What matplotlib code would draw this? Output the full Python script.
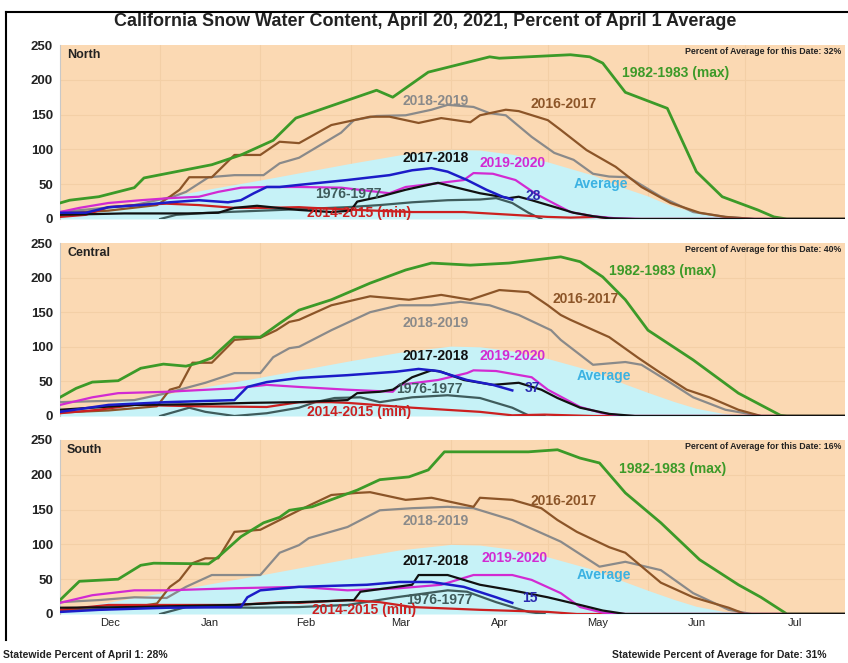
import matplotlib.pyplot as plt
from matplotlib.lines import Line2D

plt.rcParams['font.family'] = ['Liberation Sans', 'DejaVu Sans']

# days counted from Dec 1 (Dec 1 = 0, Jan 1 = 31, ... Aug 1 = 243)
month_starts = [0, 31, 62, 90, 121, 151, 182, 212, 243]
month_names = ['Dec', 'Jan', 'Feb', 'Mar', 'Apr', 'May', 'Jun', 'Jul']

regions = ['North', 'Central', 'South']
date_pct = ['32%', '40%', '16%']
current_pct = ['28', '37', '15']

# ---- North ----
north_avg = [(0, 6), (15, 17), (31, 30), (46, 43), (62, 56), (76, 68), (90, 80), (105, 92),
             (121, 100), (130, 99), (140, 93), (151, 82), (165, 63), (175, 44), (182, 33),
             (186, 25), (190, 18), (197, 9), (205, 3), (212, 0), (243, 0)]
north_1983 = [(0, 23), (3, 27), (12, 32), (23, 45), (26, 59), (47, 78), (56, 92), (66, 113),
              (73, 145), (98, 185), (103, 175), (114, 211), (133, 233), (136, 231), (158, 236),
              (164, 233), (168, 224), (175, 182), (188, 159), (197, 68), (205, 32), (216, 13),
              (221, 3), (225, 0), (243, 0)]
north_2017 = [(0, 8), (15, 12), (30, 20), (34, 32), (37, 42), (40, 60), (47, 60), (54, 92),
              (62, 92), (68, 111), (74, 109), (84, 135), (96, 147), (102, 147), (111, 138),
              (118, 145), (127, 139), (130, 149), (138, 157), (142, 155), (151, 142), (155, 128),
              (163, 99), (172, 75), (180, 46), (189, 23), (198, 9), (206, 3), (215, 0), (243, 0)]
north_2019 = [(0, 10), (23, 20), (35, 32), (39, 39), (46, 60), (54, 63), (63, 63), (68, 80),
              (74, 88), (87, 124), (91, 142), (98, 148), (107, 149), (115, 157), (120, 164),
              (128, 161), (133, 152), (138, 149), (146, 118), (153, 95), (159, 85), (165, 65),
              (170, 61), (176, 60), (186, 32), (196, 10), (206, 3), (215, 0), (243, 0)]
north_2020 = [(0, 10), (6, 16), (15, 23), (25, 27), (34, 30), (43, 32), (49, 39), (56, 45),
              (64, 46), (74, 46), (87, 45), (102, 37), (107, 46), (118, 52), (125, 56), (128, 66),
              (134, 65), (141, 56), (147, 37), (151, 27), (158, 10), (165, 4), (172, 1), (180, 0),
              (243, 0)]
north_2018 = [(0, 6), (20, 8), (40, 8), (49, 9), (54, 16), (61, 19), (74, 13), (84, 10), (90, 12),
              (92, 25), (99, 32), (107, 42), (117, 52), (122, 46), (130, 37), (139, 30), (142, 32),
              (146, 27), (154, 16), (159, 9), (165, 4), (170, 1), (178, 0), (243, 0)]
north_2021 = [(0, 9), (8, 9), (15, 17), (25, 20), (34, 24), (43, 27), (52, 24), (56, 27), (60, 37),
              (64, 46), (68, 46), (74, 49), (89, 56), (102, 63), (109, 70), (115, 73), (120, 68),
              (126, 56), (132, 42), (137, 32), (140, 28)]
north_2015 = [(0, 3), (8, 6), (15, 17), (23, 20), (33, 22), (43, 20), (54, 16), (64, 16), (74, 17),
              (78, 16), (92, 13), (109, 10), (125, 10), (140, 6), (151, 3), (158, 2), (166, 3),
              (172, 0), (243, 0)]
north_1977 = [(31, 0), (36, 6), (46, 9), (68, 13), (89, 17), (99, 20), (109, 24), (120, 27),
              (130, 28), (135, 30), (140, 23), (145, 9), (149, 0)]

# ---- Central ----
central_avg = [(0, 6), (15, 18), (31, 30), (46, 43), (62, 56), (76, 68), (90, 80), (105, 92),
               (121, 101), (130, 100), (140, 94), (151, 83), (165, 65), (175, 46), (182, 34),
               (190, 21), (197, 11), (205, 4), (212, 1), (220, 0), (243, 0)]
central_1983 = [(0, 27), (5, 40), (10, 49), (18, 51), (25, 69), (32, 75), (39, 72), (43, 77),
                (47, 84), (54, 114), (62, 114), (68, 134), (74, 153), (84, 168), (96, 192),
                (107, 211), (115, 221), (127, 218), (139, 221), (155, 230), (161, 223), (168, 201),
                (175, 168), (182, 124), (196, 81), (210, 33), (223, 1), (225, 0), (243, 0)]
central_2017 = [(0, 5), (15, 8), (30, 14), (34, 38), (37, 42), (41, 77), (47, 77), (54, 110),
                (62, 113), (67, 124), (71, 136), (74, 139), (84, 160), (96, 173), (108, 168),
                (118, 175), (127, 168), (136, 182), (145, 179), (151, 160), (155, 146), (158, 139),
                (170, 114), (179, 84), (186, 62), (194, 38), (201, 27), (210, 9), (217, 0), (243, 0)]
central_2019 = [(0, 20), (23, 23), (33, 33), (45, 48), (54, 62), (62, 62), (66, 85), (71, 98),
                (74, 100), (84, 124), (96, 150), (105, 160), (115, 160), (124, 165), (133, 160),
                (142, 146), (152, 124), (155, 110), (165, 74), (175, 78), (180, 74), (189, 48),
                (196, 27), (206, 9), (217, 0), (243, 0)]
central_2020 = [(0, 16), (10, 27), (18, 33), (33, 35), (54, 40), (64, 45), (74, 42), (89, 38),
                (103, 35), (105, 45), (117, 52), (126, 62), (128, 66), (135, 65), (146, 56),
                (151, 38), (161, 13), (168, 4), (175, 0), (243, 0)]
central_2018 = [(0, 9), (23, 16), (43, 17), (59, 19), (74, 20), (89, 23), (92, 33), (99, 35),
                (103, 38), (109, 56), (115, 66), (118, 64), (125, 52), (134, 45), (142, 48),
                (149, 38), (154, 26), (161, 12), (170, 3), (178, 0), (243, 0)]
central_2021 = [(0, 6), (15, 16), (33, 20), (54, 23), (58, 42), (64, 49), (74, 55), (89, 59),
                (104, 64), (111, 68), (117, 65), (126, 52), (134, 45), (140, 37)]
central_2015 = [(0, 4), (12, 9), (23, 16), (43, 14), (64, 13), (74, 20), (84, 20), (89, 19),
                (109, 12), (130, 6), (140, 1), (150, 2), (165, 0), (243, 0)]
central_1977 = [(31, 0), (40, 12), (45, 6), (54, 0), (64, 4), (74, 12), (79, 20), (85, 26),
                (93, 27), (99, 20), (109, 27), (120, 30), (130, 26), (140, 12), (145, 1), (150, 0)]

# ---- South ----
south_avg = [(0, 6), (15, 17), (31, 30), (46, 43), (62, 56), (76, 68), (90, 80), (105, 92),
             (121, 100), (130, 99), (140, 93), (151, 82), (165, 64), (175, 46), (182, 34),
             (190, 21), (197, 11), (205, 4), (212, 1), (220, 0), (243, 0)]
south_1983 = [(0, 20), (6, 47), (18, 50), (25, 70), (29, 73), (46, 72), (49, 82), (56, 111),
              (63, 131), (68, 139), (71, 149), (78, 154), (92, 178), (99, 193), (108, 197),
              (114, 207), (119, 233), (145, 233), (154, 236), (161, 224), (167, 217), (175, 174),
              (186, 131), (198, 78), (210, 42), (217, 24), (225, 0), (243, 0)]
south_2017 = [(0, 5), (20, 8), (30, 15), (34, 39), (37, 49), (41, 73), (45, 80), (49, 80),
              (54, 118), (62, 121), (68, 135), (74, 149), (84, 171), (92, 174), (96, 175),
              (107, 164), (115, 167), (128, 154), (130, 167), (140, 164), (149, 152), (154, 135),
              (160, 118), (170, 96), (175, 88), (186, 45), (196, 24), (207, 9), (212, 0), (243, 0)]
south_2019 = [(0, 17), (12, 20), (23, 24), (33, 23), (39, 39), (47, 56), (62, 56), (68, 88),
              (74, 99), (77, 109), (89, 125), (99, 149), (109, 152), (120, 154), (128, 152),
              (140, 135), (155, 104), (167, 68), (175, 75), (186, 63), (196, 30), (207, 6),
              (214, 0), (243, 0)]
south_2020 = [(0, 16), (10, 27), (23, 34), (33, 34), (54, 37), (74, 39), (89, 34), (105, 37),
              (118, 42), (128, 56), (140, 56), (146, 49), (155, 30), (161, 10), (168, 2), (175, 0),
              (243, 0)]
south_2018 = [(0, 9), (23, 10), (54, 13), (68, 16), (91, 20), (93, 32), (109, 42), (111, 56),
              (120, 56), (130, 42), (140, 34), (151, 24), (161, 13), (168, 5), (175, 0), (243, 0)]
south_2021 = [(0, 3), (12, 6), (33, 9), (56, 10), (58, 24), (62, 34), (74, 39), (95, 42),
              (105, 46), (115, 46), (125, 39), (135, 24), (140, 16)]
south_2015 = [(0, 6), (15, 13), (33, 13), (54, 13), (69, 17), (74, 16), (89, 20), (99, 17),
              (109, 10), (130, 6), (151, 3), (160, 0), (243, 0)]
south_1977 = [(31, 0), (39, 10), (45, 10), (60, 9), (74, 10), (89, 13), (104, 24), (120, 34),
              (126, 32), (135, 17), (145, 3), (150, 0)]

BG = '#fbd9b3'
AVG_FILL = '#c6f2f7'
COLORS = {
    '1983': '#3c9a28', '2017': '#8c5528', '2019': '#8a8a8a', '2020': '#d22ad2',
    '2018': '#111111', '2021': '#1c1cc8', '2015': '#cc2020', '1977': '#3f5c5c',
}

# label placement per panel: (day, value) of left edge
label_pos = [
    {'1983': (174, 210), '2017': (145.5, 165), '2019': (106, 170), '2018': (106, 88),
     '2020': (130, 80), 'avg': (159, 50), '1977': (79, 36), '2021': (144, 33), '2015': (76.5, 9)},
    {'1983': (170, 210), '2017': (152.6, 169), '2019': (106, 134), '2018': (106, 87),
     '2020': (130, 87), 'avg': (160, 58), '1977': (104, 39), '2021': (144, 40), '2015': (76.5, 6)},
    {'1983': (173, 208), '2017': (145.5, 162), '2019': (106, 134), '2018': (106, 76),
     '2020': (130.6, 80), 'avg': (160, 56), '1977': (107, 20), '2021': (143, 23), '2015': (78, 6)},
]
label_text = {'1983': '1982-1983 (max)', '2017': '2016-2017', '2019': '2018-2019',
              '2018': '2017-2018', '2020': '2019-2020', '1977': '1976-1977',
              '2015': '2014-2015 (min)'}


def xy(pairs):
    return [p[0] for p in pairs], [p[1] for p in pairs]


def draw_panel(ax, i, series):
    ax.set_facecolor(BG)
    ax.set_xlim(0, 243)
    ax.set_ylim(0, 250)
    for d in month_starts[1:-1]:
        ax.axvline(d, color='#f3cfa6', lw=0.8, zorder=0.5)
    for v in (50, 100, 150, 200):
        ax.axhline(v, color='#f3cfa6', lw=0.8, zorder=0.5)

    x, y = xy(series['avg'])
    ax.fill_between(x, 0, y, color=AVG_FILL, lw=0, zorder=1)

    order = ['2019', '2017', '1983', '1977', '2015', '2020', '2018', '2021']
    widths = {'1983': 2.0, '2021': 1.8}
    for key in order:
        x, y = xy(series[key])
        ax.plot(x, y, color=COLORS[key], lw=widths.get(key, 1.6), zorder=3,
                solid_joinstyle='round')

    pos = label_pos[i]
    for key, txt in label_text.items():
        ax.text(*pos[key], txt, color=COLORS[key], fontsize=10, fontweight='bold',
                va='center', ha='left', zorder=5)
    ax.text(*pos['avg'], 'Average', color='#3cb2e2', fontsize=10, fontweight='bold',
            va='center', ha='left', zorder=5)
    ax.text(*pos['2021'], current_pct[i], color='#2a2ab0', fontsize=10, fontweight='bold',
            va='center', ha='left', zorder=5)

    ax.text(0.009, 0.94, regions[i], transform=ax.transAxes, fontsize=9,
            fontweight='bold', color='#222222', va='center', ha='left')
    ax.text(0.995, 0.96, 'Percent of Average for this Date: ' + date_pct[i],
            transform=ax.transAxes, fontsize=6.3, fontweight='bold', color='#222222',
            va='center', ha='right')

    ax.set_yticks([0, 50, 100, 150, 200, 250])
    ax.set_yticklabels(['0', '50', '100', '150', '200', '250'], fontweight='bold',
                       fontsize=9.5, color='#222222')
    ax.tick_params(axis='y', length=0, pad=5)
    for s in ['top', 'right', 'bottom']:
        ax.spines[s].set_visible(False)
    ax.spines['left'].set_color('#c8c8c8')
    ax.spines['left'].set_linewidth(0.8)


all_series = [
    {'avg': north_avg, '1983': north_1983, '2017': north_2017, '2019': north_2019,
     '2020': north_2020, '2018': north_2018, '2021': north_2021, '2015': north_2015,
     '1977': north_1977},
    {'avg': central_avg, '1983': central_1983, '2017': central_2017, '2019': central_2019,
     '2020': central_2020, '2018': central_2018, '2021': central_2021, '2015': central_2015,
     '1977': central_1977},
    {'avg': south_avg, '1983': south_1983, '2017': south_2017, '2019': south_2019,
     '2020': south_2020, '2018': south_2018, '2021': south_2021, '2015': south_2015,
     '1977': south_1977},
]

fig = plt.figure(figsize=(8.48, 6.63), dpi=100)
W, H = 848, 663
panel_px = [(45, 219), (243, 416), (440, 614)]
axes = []
for i, (top, bot) in enumerate(panel_px):
    ax = fig.add_axes([60 / W, 1 - bot / H, 785 / W, (bot - top) / H])
    draw_panel(ax, i, all_series[i])
    axes.append(ax)

for ax in axes[:-1]:
    ax.set_xticks([])
mids = [(a + b) / 2 for a, b in zip(month_starts[:-1], month_starts[1:])]
axes[-1].set_xticks(mids)
axes[-1].set_xticklabels(month_names, fontsize=8, color='#222222')
axes[-1].tick_params(axis='x', length=0, pad=3)

fig.text(425 / W, 1 - 21 / H, 'California Snow Water Content, April 20, 2021, Percent of April 1 Average',
         ha='center', va='center', fontsize=13, fontweight='bold', color='#222222')
fig.text(3 / W, 1 - 655 / H, 'Statewide Percent of April 1: 28%', ha='left', va='center',
         fontsize=7.5, fontweight='bold', color='#222222')
fig.text(826 / W, 1 - 655 / H, 'Statewide Percent of Average for Date: 31%', ha='right',
         va='center', fontsize=7.5, fontweight='bold', color='#222222')

# outer frame (top and left edges)
fig.add_artist(Line2D([6 / W, 1.0], [1 - 12 / H, 1 - 12 / H], color='black', lw=1.5))
fig.add_artist(Line2D([6 / W, 6 / W], [1 - 12 / H, 1 - 640 / H], color='black', lw=1.5))

fig.savefig('out.png', dpi=100)
